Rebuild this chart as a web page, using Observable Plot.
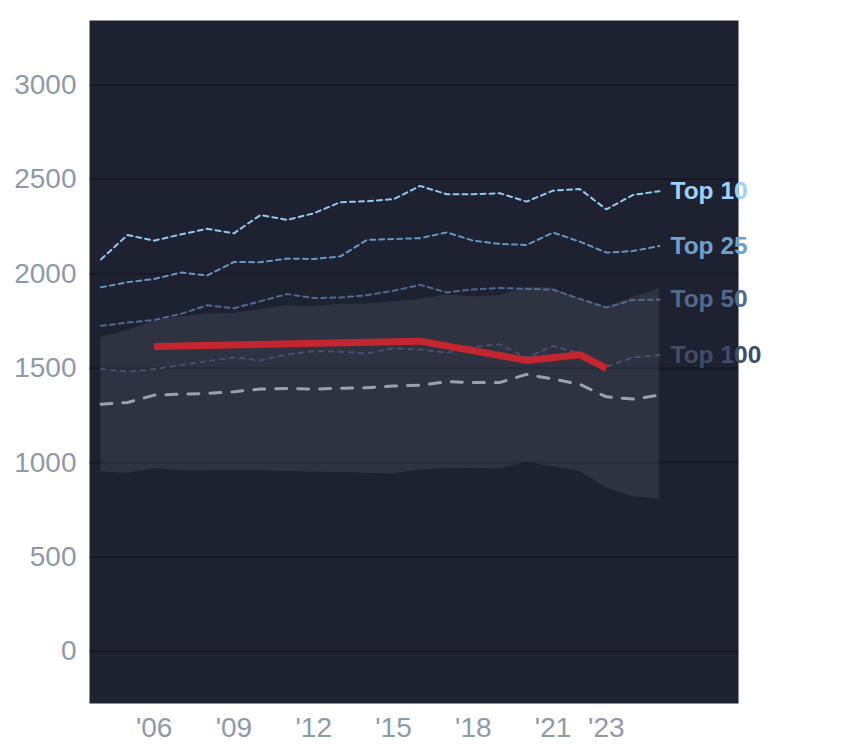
<!DOCTYPE html>
<html><head><meta charset="utf-8">
<script src="https://cdn.jsdelivr.net/npm/d3@7"></script>
<script src="https://cdn.jsdelivr.net/npm/@observablehq/plot@0.6"></script>
<style>html,body{margin:0;padding:0;background:#fff;overflow:hidden}#chart svg{display:block}</style>
</head><body><div id="chart"></div>
<script>
const years = [2004,2005,2006,2007,2008,2009,2010,2011,2012,2013,2014,2015,2016,2017,2018,2019,2020,2021,2022,2023,2024,2025];
const top10  = [2076,2205,2175,2208,2238,2214,2311,2285,2320,2379,2384,2395,2465,2421,2421,2426,2382,2440,2449,2341,2417,2437];
const top25  = [1928,1955,1972,2006,1991,2062,2061,2080,2078,2092,2179,2184,2188,2219,2175,2158,2152,2218,2170,2112,2120,2147];
const top50  = [1724,1741,1755,1787,1833,1817,1855,1892,1871,1874,1886,1910,1941,1901,1917,1925,1920,1915,1867,1821,1861,1863];
const top100 = [1495,1481,1495,1516,1537,1557,1541,1573,1590,1587,1578,1605,1599,1581,1613,1626,1555,1617,1578,1507,1557,1569];
const baseline = [1309,1318,1357,1362,1366,1375,1389,1392,1389,1394,1396,1405,1410,1428,1424,1424,1467,1442,1415,1348,1336,1357];
const bandHigh = [1663,1698,1749,1772,1785,1790,1811,1831,1825,1838,1840,1852,1864,1887,1878,1885,1928,1925,1868,1822,1875,1921];
const bandLow  = [951,942,968,956,956,958,958,952,949,947,944,940,960,967,968,965,1000,977,952,866,818,806];
const redYears  = [2006,2016,2020,2022,2023];
const redValues = [1615,1643,1541,1571,1499];
const seriesNames = ["Top 10","Top 25","Top 50","Top 100"];
const xTicks = [2006,2009,2012,2015,2018,2021,2023];
const yTicks = [0,500,1000,1500,2000,2500,3000];

const seriesValues = [top10, top25, top50, top100];
const lineColors  = ["#94c8ec","#6796c2","#4f6a90","#435170"];
const labelColors = ["#9fd0f5","#6fa1cc","#526a8c","#414d66"];
const dashes = ["5,4","5,4","5,4","4.5,5.5"];

const toRows = arr => years.map((year, i) => ({year, value: arr[i]}));
const band = years.map((year, i) => ({year, low: bandLow[i], high: bandHigh[i]}));
const red = redYears.map((year, i) => ({year, value: redValues[i]}));

const seriesMarks = [];
seriesValues.forEach((arr, k) => {
  seriesMarks.push(Plot.lineY(toRows(arr), {x: "year", y: "value", stroke: lineColors[k], strokeWidth: 2, strokeDasharray: dashes[k]}));
});
const labelMarks = seriesValues.map((arr, k) =>
  Plot.text([{year: years[years.length-1], value: arr[arr.length-1], name: seriesNames[k]}],
    {x: "year", y: "value", text: "name", fill: labelColors[k], dx: 11, textAnchor: "start", fontSize: 24.5, fontWeight: "bold", lineAnchor: "middle"})
);

const chart = Plot.plot({
  width: 844, height: 748,
  marginLeft: 89, marginRight: 106, marginTop: 20, marginBottom: 45,
  x: {domain: [2003.57, 2027.97], label: null},
  y: {domain: [-276, 3341], label: null},
  style: {background: "#fff", fontSize: "28px", fontFamily: "'Liberation Sans', Arial, sans-serif", color: "#8e99aa"},
  marks: [
    Plot.frame({fill: "#1e2130", stroke: "none"}),
    Plot.gridY(yTicks, {stroke: "#000", strokeOpacity: 0.25, strokeWidth: 2}),
    Plot.areaY(band, {x: "year", y1: "low", y2: "high", fill: "#fff", fillOpacity: 0.08}),
    Plot.lineY(toRows(baseline), {x: "year", y: "value", stroke: "#9ca2ad", strokeWidth: 3, strokeDasharray: "11,11"}),
    ...seriesMarks,
    Plot.lineY(red, {x: "year", y: "value", stroke: "#c3262f", strokeWidth: 7, strokeLinecap: "butt", strokeLinejoin: "miter"}),
    ...labelMarks,
    Plot.axisY(yTicks, {tickSize: 0, tickPadding: 13, fontSize: 28, fill: "#8e99aa", label: null, tickFormat: d => String(d)}),
    Plot.axisX(xTicks, {tickSize: 0, tickPadding: 14, fontSize: 28, fill: "#8e99aa", label: null, tickFormat: d => "'" + String(d).slice(2)})
  ]
});
document.getElementById("chart").appendChild(chart);
</script>
</body></html>
